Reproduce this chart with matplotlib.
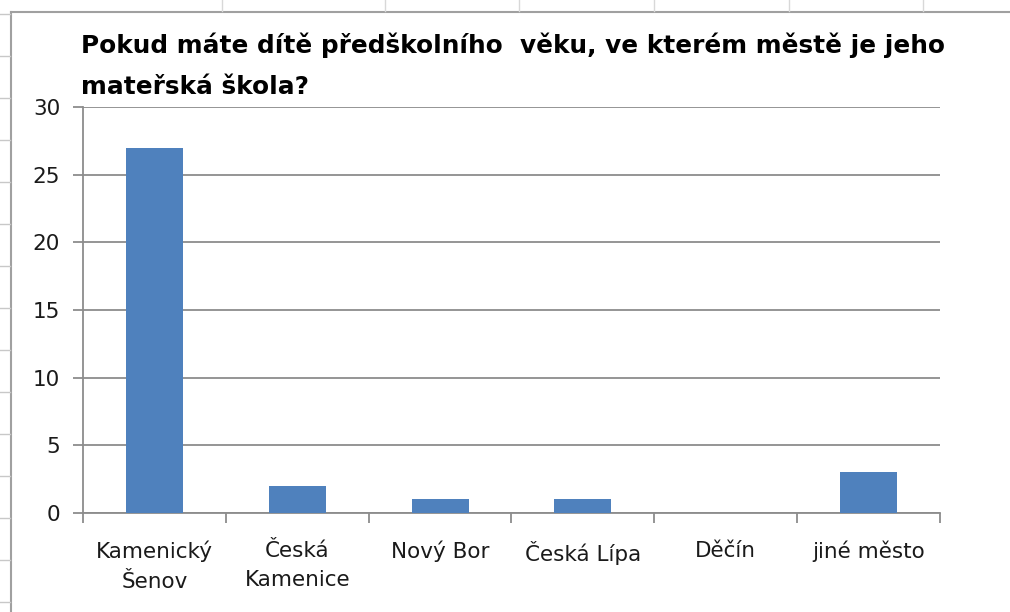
import matplotlib
matplotlib.use("Agg")
import matplotlib.pyplot as plt
from matplotlib.lines import Line2D

# ── Data ──────────────────────────────────────────────────────────────────────
categories = ["Kamenický\nŠenov", "Česká\nKamenice", "Nový Bor", "Česká Lípa", "Děčín", "jiné město"]
counts = [27, 2, 1, 1, 0, 3]
yticks = [0, 5, 10, 15, 20, 25, 30]

TITLE = "Pokud máte dítě předškolního  věku, ve kterém městě je jeho\nmateřská škola?"

BAR = "#4f81bd"
GRID = "#8c8c8c"
FRAME = "#a0a0a0"
TEXT = "#1a1a1a"

W, H = 1010, 612
fig = plt.figure(figsize=(W / 100, H / 100), dpi=100)
fig.patch.set_facecolor("white")

# plot area (pixel positions from the screenshot)
x0, x1, y0, y1 = 83, 940, 513, 107
ax = fig.add_axes([x0 / W, 1 - y0 / H, (x1 - x0) / W, (y0 - y1) / H])

pos = range(len(categories))
ax.bar(pos, counts, width=0.4, color=BAR, zorder=3)

ax.set_xlim(-0.5, len(categories) - 0.5)
ax.set_ylim(0, 30)
ax.set_yticks(yticks)
ax.yaxis.grid(True, color=GRID, lw=1.3, zorder=1)
ax.set_axisbelow(True)

for s in ["top", "right"]:
    ax.spines[s].set_visible(False)
for s in ["left", "bottom"]:
    ax.spines[s].set_color(GRID)
    ax.spines[s].set_linewidth(1.3)

# category boundary ticks on x axis, labels centred under bars
ax.set_xticks([i - 0.5 for i in range(len(categories) + 1)])
ax.set_xticklabels([])
ax.set_xticks(list(pos), minor=True)
ax.set_xticklabels(categories, minor=True, fontsize=15.5, color=TEXT, linespacing=1.6)
ax.tick_params(axis="x", which="major", length=7.5, width=1.3, color=GRID)
ax.tick_params(axis="x", which="minor", length=0, pad=20)
ax.tick_params(axis="y", length=7.5, width=1.3, color=GRID, labelsize=15.5,
               labelcolor=TEXT, pad=9)

fig.text(81 / W, 1 - 32 / H, TITLE, ha="left", va="top", fontsize=17.85,
         fontweight="bold", color="black", linespacing=1.93)

# spreadsheet frame around the chart object
fig.add_artist(Line2D([11 / W, 11 / W], [0, 1 - 12 / H], color=FRAME, lw=1.5))
fig.add_artist(Line2D([11 / W, 1], [1 - 12 / H, 1 - 12 / H], color=FRAME, lw=1.5))
for y in range(14, H, 42):
    fig.add_artist(Line2D([0, 10 / W], [1 - y / H, 1 - y / H], color="#c8c8c8", lw=1))
for x in [222, 385, 519, 654, 789, 923]:
    fig.add_artist(Line2D([x / W, x / W], [1, 1 - 11 / H], color="#d8d8d8", lw=1))

fig.savefig("out.png", dpi=100, facecolor="white")
